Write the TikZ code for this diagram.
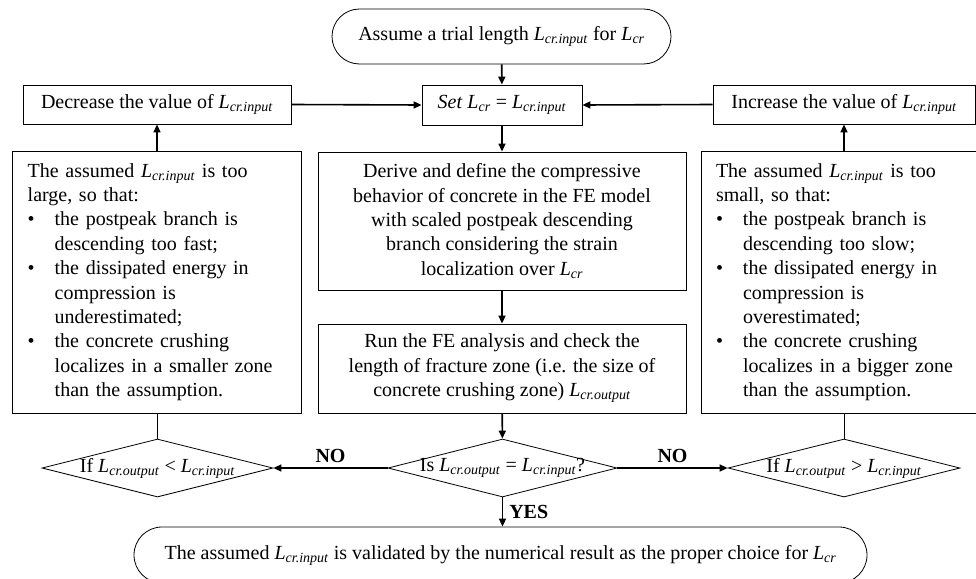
\documentclass[tikz,border=0pt]{standalone}
\usepackage{fontspec}
\setmainfont{Liberation Serif}
\usetikzlibrary{arrows.meta,shapes.geometric,shapes.misc}
\newcommand{\Lc}[1]{\textit{L}\textsubscript{\textit{#1}}}
\newcommand{\itm}{\makebox[27pt][l]{\textbullet}}
\newcommand{\cnt}{\hspace*{27pt}}
\begin{document}
\begin{tikzpicture}[
  x=1pt, y=-1pt,
  font=\fontsize{20}{24.4}\selectfont,
  box/.style={draw, line width=0.8pt, inner sep=0pt, align=center},
  term/.style={draw, line width=0.8pt, rounded rectangle, inner sep=0pt},
  cond/.style={draw, line width=0.8pt, diamond, inner sep=0pt},
  arrow/.style={-{Triangle[length=8pt,width=7pt]}, line width=1.6pt},
  link/.style={line width=0.8pt},
  tag/.style={font=\fontsize{20}{24}\selectfont\bfseries, inner sep=0pt}
]
\useasboundingbox (0,0) rectangle (976,578);
\node[term, minimum width=339pt, minimum height=55pt] (start) at (501.5,36.5) {Assume a trial length \Lc{cr.input} for \Lc{cr}};
\node[box, minimum width=160pt, minimum height=40pt] (set) at (502,105) {\textit{Set} \Lc{cr} = \Lc{cr.input}};
\node[box, minimum width=268pt, minimum height=39pt] (dec) at (157,104.5) {Decrease the value of \Lc{cr.input}};
\node[box, minimum width=262pt, minimum height=39pt] (inc) at (844,104.5) {Increase the value of \Lc{cr.input}};
\node[box, align=left, text width=259pt, minimum width=289pt, minimum height=262pt] (large) at (157.2,282) {The assumed \Lc{cr.input} is too\\ large, so that:\\ \itm the postpeak branch is\\ \cnt descending too fast;\\ \itm the dissipated energy in\\ \cnt compression is\\ \cnt underestimated;\\ \itm the concrete crushing\\ \cnt localizes in a smaller zone\\ \cnt than the assumption.};
\node[box, align=left, text width=259pt, minimum width=289pt, minimum height=262pt] (small) at (845.5,282) {The assumed \Lc{cr.input} is too\\ small, so that:\\ \itm the postpeak branch is\\ \cnt descending too slow;\\ \itm the dissipated energy in\\ \cnt compression is\\ \cnt overestimated;\\ \itm the concrete crushing\\ \cnt localizes in a bigger zone\\ \cnt than the assumption.};
\node[box, minimum width=368pt, minimum height=138pt] (derive) at (502,221) {Derive and define the compressive\\ behavior of concrete in the FE model\\ with scaled postpeak descending\\ branch considering the strain\\ localization over \Lc{cr}};
\node[box, minimum width=368pt, minimum height=89pt] (run) at (502,368.5) {Run the FE analysis and check the\\ length of fracture zone (i.e. the size of\\ concrete crushing zone) \Lc{cr.output}};
\node[cond, minimum width=231pt, minimum height=58pt] (less) at (157.5,468) {\makebox[0pt]{If \Lc{cr.output} < \Lc{cr.input}}};
\node[cond, minimum width=229pt, minimum height=58pt] (equal) at (502.5,468) {\makebox[0pt]{Is \Lc{cr.output} = \Lc{cr.input}?}};
\node[cond, minimum width=232pt, minimum height=58pt] (more) at (844,468) {\makebox[0pt]{If \Lc{cr.output} > \Lc{cr.input}}};
\node[term, minimum width=733pt, minimum height=56pt] (valid) at (500.5,555) {The assumed \Lc{cr.input} is validated by the numerical result as the proper choice for \Lc{cr}};
% main path
\draw[arrow] (start) -- (set);
\draw[arrow] (set) -- (derive);
\draw[arrow] (derive) -- (run);
\draw[arrow] (run) -- (equal);
\draw[arrow] (equal.west) -- node[tag, above=5pt] (nol) {NO} (less.east);
\draw[arrow] (equal.east) -- node[tag, above=5pt] (nor) {NO} (more.west);
\draw[arrow] (equal.south) -- node[tag, right=6pt] (yes) {YES} (valid.north -| equal.south);
% feedback loops
\draw[link] (less.north) -- (large.south -| less.north);
\draw[arrow] (large.north -| dec.south) -- (dec.south);
\draw[arrow] (dec.east) -- (set.west);
\draw[link] (more.north) -- (small.south -| more.north);
\draw[arrow] (small.north -| inc.south) -- (inc.south);
\draw[arrow] (inc.west) -- (set.east);
\end{tikzpicture}
\end{document}
